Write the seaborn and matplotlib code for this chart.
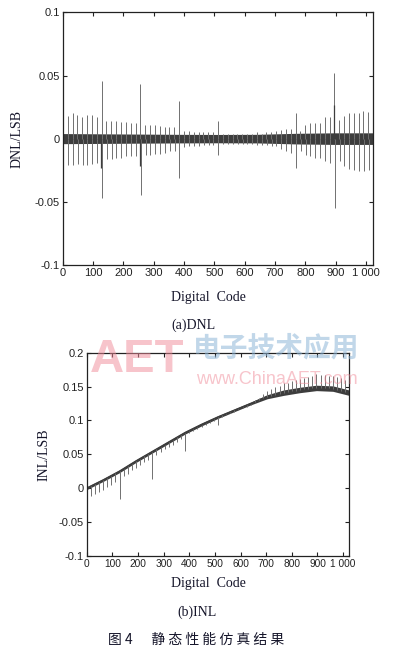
import numpy as np
import matplotlib
matplotlib.use("Agg")
import matplotlib.pyplot as plt
import seaborn as sns

# ---- data ----
# DNL / INL spikes sit at every 16th code
spike_codes = np.arange(16, 1024, 16)

dnl_up = [0.018, 0.020, 0.019, 0.017, 0.019, 0.019, 0.017, 0.046,
          0.014, 0.014, 0.014, 0.013, 0.013, 0.012, 0.012, 0.043,
          0.011, 0.011, 0.011, 0.010, 0.009, 0.009, 0.009, 0.030,
          0.006, 0.006, 0.005, 0.005, 0.005, 0.005, 0.005, 0.014,
          0.004, 0.004, 0.004, 0.004, 0.004, 0.004, 0.004, 0.005,
          0.004, 0.005, 0.005, 0.006, 0.007, 0.008, 0.008, 0.020,
          0.006, 0.011, 0.012, 0.012, 0.012, 0.017, 0.017, 0.052,
          0.015, 0.018, 0.020, 0.020, 0.020, 0.022, 0.021]
dnl_down = [-0.021, -0.021, -0.020, -0.021, -0.021, -0.020, -0.019, -0.047,
            -0.016, -0.016, -0.015, -0.015, -0.014, -0.014, -0.014, -0.045,
            -0.013, -0.013, -0.012, -0.012, -0.011, -0.010, -0.010, -0.031,
            -0.007, -0.006, -0.006, -0.006, -0.005, -0.005, -0.005, -0.013,
            -0.004, -0.004, -0.004, -0.004, -0.004, -0.004, -0.004, -0.005,
            -0.005, -0.005, -0.006, -0.006, -0.008, -0.010, -0.011, -0.023,
            -0.010, -0.013, -0.014, -0.015, -0.015, -0.018, -0.019, -0.055,
            -0.018, -0.022, -0.024, -0.025, -0.026, -0.026, -0.025]
dnl_extra_codes = [127, 255, 895]
dnl_extra_vals = [-0.023, -0.022, 0.027]

# half width of the dense noise band around zero
band_codes = [0, 128, 256, 384, 512, 640, 768, 896, 1023]
dnl_band = [0.0040, 0.0038, 0.0036, 0.0034, 0.0033, 0.0034, 0.0042, 0.0046, 0.0046]

inl_codes = [0, 64, 128, 192, 256, 320, 384, 448, 512, 576, 640, 704, 768,
             832, 896, 960, 1023]
inl_trend = [0.0, 0.012, 0.025, 0.040, 0.054, 0.068, 0.082, 0.094, 0.105,
             0.115, 0.125, 0.135, 0.141, 0.145, 0.148, 0.147, 0.141]
inl_band = [0.002, 0.002, 0.002, 0.002, 0.002, 0.002, 0.002, 0.002, 0.002,
            0.002, 0.002, 0.003, 0.004, 0.004, 0.004, 0.004, 0.004]
inl_spikes = [-0.014, -0.015, -0.014, -0.014, -0.013, -0.014, -0.012, -0.041,
              -0.010, -0.011, -0.010, -0.010, -0.009, -0.009, -0.009, -0.040,
              -0.008, -0.008, -0.007, -0.007, -0.007, -0.007, -0.006, -0.027,
              -0.004, -0.004, -0.003, -0.003, -0.003, -0.003, -0.003, -0.012,
              -0.002, -0.002, -0.002, -0.002, -0.002, -0.002, -0.002, -0.002,
              0.003, 0.003, 0.006, 0.008, 0.010, 0.011, 0.012, 0.014,
              0.014, 0.015, 0.016, 0.016, 0.017, 0.018, 0.018, 0.020,
              0.019, 0.019, 0.019, 0.019, 0.019, 0.018, 0.017]

x_ticks = [0, 100, 200, 300, 400, 500, 600, 700, 800, 900, 1000]
x_ticklabels = ["0", "100", "200", "300", "400", "500", "600", "700", "800", "900", "1 000"]
dnl_yticks = [-0.1, -0.05, 0, 0.05, 0.1]
dnl_yticklabels = ["-0.1", "-0.05", "0", "0.05", "0.1"]
inl_yticks = [-0.1, -0.05, 0, 0.05, 0.1, 0.15, 0.2]
inl_yticklabels = ["-0.1", "-0.05", "0", "0.05", "0.1", "0.15", "0.2"]

sns.set_style("ticks")
plt.rcParams['font.family'] = ['Liberation Serif', 'DejaVu Serif']
tick_font = ['Liberation Sans', 'DejaVu Sans']
cjk_font = ['Noto Sans CJK SC', 'DejaVu Sans']
txt_color = '#15152a'
band_color = '#3d3d3d'
spike_color = '#707070'

fig = plt.figure(figsize=(3.95, 6.57), dpi=100)
fig.patch.set_facecolor('white')


def style_axes(ax, yticks, yticklabels, ylim, xsize):
    ax.set_xlim(0, 1023)
    ax.set_ylim(*ylim)
    ax.set_xticks(x_ticks)
    ax.set_xticklabels(x_ticklabels, family=tick_font, fontsize=xsize, color='#111111')
    ax.set_yticks(yticks)
    ax.set_yticklabels(yticklabels, family=tick_font, fontsize=8, color='#111111')
    ax.tick_params(direction='in', top=True, right=True, length=3, width=0.8, pad=2,
                   colors='#222222')
    for s in ax.spines.values():
        s.set_linewidth(0.9)
        s.set_color('#222222')
    ax.set_facecolor('white')


# ---- (a) DNL ----
ax1 = fig.add_axes([0.159, 0.597, 0.785, 0.384])
ax1.fill_between(band_codes, [-b for b in dnl_band], dnl_band, color=band_color, lw=0)
ax1.vlines(spike_codes, 0, dnl_up, color=spike_color, lw=0.7)
ax1.vlines(spike_codes + 1, 0, dnl_down, color=spike_color, lw=0.7)
ax1.vlines(dnl_extra_codes, 0, dnl_extra_vals, color=band_color, lw=0.9)
style_axes(ax1, dnl_yticks, dnl_yticklabels, (-0.1, 0.1), 8)
ax1.set_ylabel("DNL/LSB", fontsize=10, color=txt_color, labelpad=8)

# ---- (b) INL ----
ax2 = fig.add_axes([0.2195, 0.1537, 0.664, 0.3095])
trend_lo = [t - b for t, b in zip(inl_trend, inl_band)]
trend_hi = [t + b for t, b in zip(inl_trend, inl_band)]
ax2.fill_between(inl_codes, trend_lo, trend_hi, color=band_color, lw=0)
sns.lineplot(x=inl_codes, y=inl_trend, ax=ax2, color=band_color, lw=1.2)
base = np.interp(spike_codes, inl_codes, inl_trend)
ax2.vlines(spike_codes, base, base + np.array(inl_spikes), color=spike_color, lw=0.7)
style_axes(ax2, inl_yticks, inl_yticklabels, (-0.1, 0.2), 7.3)
ax2.set_ylabel("INL/LSB", fontsize=10, color=txt_color, labelpad=6)

# ---- captions ----
fig.text(0.527, 0.547, "Digital  Code", ha='center', va='center', fontsize=10, color=txt_color)
fig.text(0.489, 0.505, "(a)DNL", ha='center', va='center', fontsize=10, color=txt_color)
fig.text(0.527, 0.112, "Digital  Code", ha='center', va='center', fontsize=10, color=txt_color)
fig.text(0.498, 0.068, "(b)INL", ha='center', va='center', fontsize=10, color=txt_color)
fig.text(0.496, 0.026, "图 4      静 态 性 能 仿 真 结 果", ha='center', va='center',
         fontsize=10, color=txt_color, family=cjk_font)

# ---- watermark ----
fig.text(0.228, 0.452, "AET", ha='left', va='center', fontsize=34, fontweight='bold',
         color='#f08a98', alpha=0.5, family=['Liberation Sans', 'DejaVu Sans'])
fig.text(0.70, 0.470, "电子技术应用", ha='center', va='center', fontsize=20, fontweight='bold',
         color='#8fb6d8', alpha=0.55, family=cjk_font)
fig.text(0.70, 0.422, "www.ChinaAET.com", ha='center', va='center', fontsize=13,
         color='#f08a98', alpha=0.5, family=['Liberation Sans', 'DejaVu Sans'])

fig.savefig("out.png", dpi=100)
